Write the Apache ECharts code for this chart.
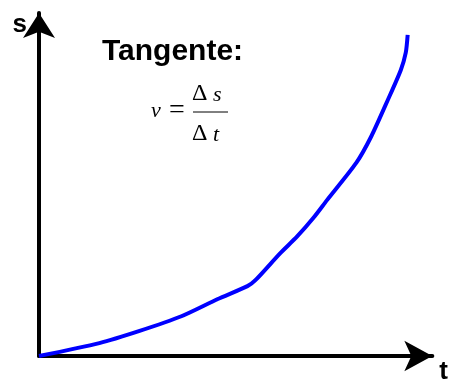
<!DOCTYPE html>
<html>
<head>
<meta charset="utf-8">
<script src="https://cdn.jsdelivr.net/npm/echarts@6/dist/echarts.min.js"></script>
<style>
  html, body { margin: 0; padding: 0; background: #fff; }
  #chart { width: 451px; height: 385px; }
</style>
</head>
<body>
<div id="chart"></div>
<script>
// path s(t) (arbitrary units)
const tValues = [0, 1.59, 2.63, 3.75, 4.71, 5.49, 5.70, 6.35, 6.80, 7.24, 7.58, 8.36, 8.75, 9.19, 9.53, 9.66, 9.71];
const sValues = [0, 0.39, 0.75, 1.20, 1.72, 2.11, 2.29, 3.10, 3.61, 4.19, 4.70, 5.84, 6.63, 7.74, 8.64, 9.16, 9.70];
const axisNames = ['t', 's'];
const axisMax = 10.36;
const title = 'Tangente:';

const chart = echarts.init(document.getElementById('chart'));

const curve = tValues.map((t, i) => [t, sValues[i]]);

const sans = '"Liberation Sans", Arial, sans-serif';
const serif = '"Liberation Serif", "Times New Roman", serif';

const option = {
    animation: false,
    backgroundColor: '#ffffff',
    grid: { left: 39, right: 14, top: 13, bottom: 28 },
    xAxis: {
        type: 'value',
        min: 0,
        max: axisMax,
        name: axisNames[0],
        nameLocation: 'end',
        nameGap: 7,
        nameTextStyle: { fontFamily: sans, fontWeight: 'bold', fontSize: 26, color: '#000', verticalAlign: 'top', padding: [3, 0, 0, 0] },
        axisLine: {
            show: true,
            symbol: ['none', 'arrow'],
            symbolSize: [23, 28],
            lineStyle: { color: '#000', width: 4 }
        },
        axisTick: { show: false },
        axisLabel: { show: false },
        splitLine: { show: false }
    },
    yAxis: {
        type: 'value',
        min: 0,
        max: axisMax,
        name: axisNames[1],
        nameLocation: 'end',
        nameGap: 1,
        nameTextStyle: { fontFamily: sans, fontWeight: 'bold', fontSize: 26, color: '#000', align: 'right', verticalAlign: 'top', padding: [0, 12, 0, 0] },
        axisLine: {
            show: true,
            symbol: ['none', 'arrow'],
            symbolSize: [24, 25],
            lineStyle: { color: '#000', width: 4 }
        },
        axisTick: { show: false },
        axisLabel: { show: false },
        splitLine: { show: false }
    },
    graphic: [
        {
            type: 'text',
            left: 102,
            top: 37,
            style: { text: title, font: 'bold 30px ' + sans, fill: '#000' }
        },
        // v = Δs / Δt
        {
            type: 'text',
            left: 151,
            top: 100,
            style: { text: 'v', font: 'italic 22px ' + serif, fill: '#000' }
        },
        {
            type: 'text',
            left: 169,
            top: 97,
            style: { text: '=', font: '28px ' + serif, fill: '#000' }
        },
        {
            type: 'text',
            left: 192,
            top: 82,
            style: { text: '\u0394', font: '24px ' + serif, fill: '#000' },
        },
        {
            type: 'text',
            left: 213,
            top: 84,
            style: { text: 's', font: 'italic 22px ' + serif, fill: '#000' }
        },
        {
            type: 'line',
            shape: { x1: 193, y1: 112, x2: 228, y2: 112 },
            style: { stroke: '#000', lineWidth: 1 }
        },
        {
            type: 'text',
            left: 192,
            top: 122,
            style: { text: '\u0394', font: '24px ' + serif, fill: '#000' }
        },
        {
            type: 'text',
            left: 213,
            top: 124,
            style: { text: 't', font: 'italic 22px ' + serif, fill: '#000' }
        }
    ],
    series: [
        {
            type: 'line',
            data: curve,
            smooth: 0.25,
            showSymbol: false,
            lineStyle: { color: '#0000ff', width: 4 },
            z: 5
        }
    ]
};

chart.setOption(option);
</script>
</body>
</html>
